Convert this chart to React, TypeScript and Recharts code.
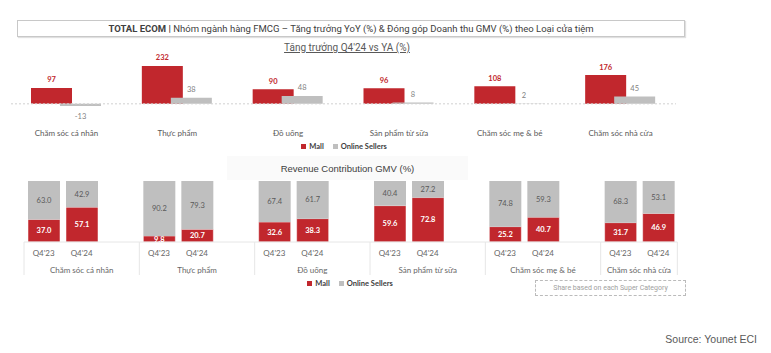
import { BarChart, Bar, XAxis, YAxis, LabelList, ReferenceLine } from "recharts";

const categories = [
  "Chăm sóc cá nhân",
  "Thực phẩm",
  "Đồ uống",
  "Sản phẩm từ sữa",
  "Chăm sóc mẹ & bé",
  "Chăm sóc nhà cửa",
];
const mallGrowth = [97, 232, 90, 96, 108, 176];
const onlineGrowth = [-13, 38, 48, 8, 2, 45];

const periods = ["Q4'23", "Q4'24"];
const mallShare23 = [37.0, 9.8, 32.6, 59.6, 25.2, 31.7];
const onlineShare23 = [63.0, 90.2, 67.4, 40.4, 74.8, 68.3];
const mallShare24 = [57.1, 20.7, 38.3, 72.8, 40.7, 46.9];
const onlineShare24 = [42.9, 79.3, 61.7, 27.2, 59.3, 53.1];

const RED = "#c1272d";
const GRAY = "#bfbfbf";
const TEXT = "#595959";
const FONT = "Lato, 'Noto Sans', sans-serif";

const growthData = categories.map((name, i) => ({
  name,
  mall: mallGrowth[i],
  online: onlineGrowth[i],
}));

const shareData = categories.map((name, i) => ({
  name,
  mall23: mallShare23[i],
  online23: onlineShare23[i],
  mall24: mallShare24[i],
  online24: onlineShare24[i],
}));

// bottom chart layout
const SHARE_W = 771;
const SHARE_ML = 24;
const SHARE_MR = 55;
const BAR_SIZE = 32;
const BAR_GAP = 6;
const BAND = (SHARE_W - SHARE_ML - SHARE_MR) / categories.length;

const growthLabel = (color: string, weight: number) => (props: any) => {
  const vb = props.viewBox || props;
  const x = vb.x ?? props.x;
  const y = vb.y ?? props.y;
  const w = vb.width ?? props.width;
  const h = vb.height ?? props.height;
  const value = Number(props.value);
  const top = Math.min(y, y + h);
  const bottom = Math.max(y, y + h);
  const ty = value < 0 ? bottom + 11 : top - 8;
  return (
    <text
      x={x + w / 2}
      y={ty}
      textAnchor="middle"
      dominantBaseline="central"
      fontSize={7.5}
      fontWeight={weight}
      fill={color}
      fontFamily={FONT}
    >
      {value}
    </text>
  );
};

const TopTick = (props: any) => {
  const { x, y, payload } = props;
  return (
    <text
      x={x}
      y={y + 21}
      textAnchor="middle"
      dominantBaseline="central"
      fontSize={8}
      fill={TEXT}
      fontFamily={FONT}
    >
      {payload.value}
    </text>
  );
};

const ShareTick = (props: any) => {
  const { x, y, payload, index } = props;
  const left = x - BAND / 2;
  const pad = (BAND - (3 * BAR_SIZE + 2 * BAR_GAP)) / 2;
  const c1 = left + pad + BAR_SIZE / 2;
  const c2 = c1 + BAR_SIZE + BAR_GAP;
  const last = index === categories.length - 1;
  const right = last ? c2 + BAR_SIZE / 2 + 3 : x + BAND / 2;
  return (
    <g>
      <line x1={left} y1={y} x2={right} y2={y} stroke="#e6e6e6" />
      <line x1={left} y1={y} x2={left} y2={y + 33} stroke="#e6e6e6" />
      {last && <line x1={right} y1={y} x2={right} y2={y + 33} stroke="#e6e6e6" />}
      {[c1, c2].map((cx, k) => (
        <text
          key={k}
          x={cx}
          y={y + 11}
          textAnchor="middle"
          dominantBaseline="central"
          fontSize={8}
          fill="#666"
          fontFamily={FONT}
        >
          {periods[k]}
        </text>
      ))}
      <text
        x={(left + right) / 2}
        y={y + 28}
        textAnchor="middle"
        dominantBaseline="central"
        fontSize={8}
        fill="#666"
        fontFamily={FONT}
      >
        {payload.value}
      </text>
    </g>
  );
};

const fmt = (v: any) => Number(v).toFixed(1);

function Legend({ top, width }: { top: number; width: number }) {
  const item = (color: string, label: string, ml: number) => (
    <span style={{ display: "flex", alignItems: "center", marginLeft: ml }}>
      <span style={{ width: 5, height: 5, background: color, marginRight: 3 }} />
      <span>{label}</span>
    </span>
  );
  return (
    <div
      style={{
        position: "absolute",
        left: 0,
        top,
        width,
        height: 10,
        display: "flex",
        justifyContent: "center",
        alignItems: "center",
        fontSize: 7.5,
        fontWeight: 700,
        color: "#404040",
        fontFamily: FONT,
      }}
    >
      {item(RED, "Mall", 0)}
      {item(GRAY, "Online Sellers", 9)}
    </div>
  );
}

export default function App() {
  return (
    <div
      style={{
        position: "absolute",
        left: 0,
        top: 0,
        width: 771,
        height: 353,
        background: "#fff",
        overflow: "hidden",
        fontFamily: FONT,
      }}
    >
      <div
        style={{
          position: "absolute",
          left: 17,
          top: 20,
          width: 668,
          height: 17,
          boxSizing: "border-box",
          border: "1px solid #c8c8c8",
          boxShadow: "1px 1px 1px rgba(0,0,0,0.12)",
          display: "flex",
          alignItems: "center",
          justifyContent: "center",
          fontSize: 9.5,
          color: "#404040",
          fontFamily: "Roboto, sans-serif",
          whiteSpace: "nowrap",
        }}
      >
        <span style={{ fontWeight: 700 }}>TOTAL ECOM |</span>
        &nbsp;Nhóm ngành hàng FMCG – Tăng trưởng YoY (%) &amp; Đóng góp Doanh thu GMV (%) theo Loại cửa tiệm
      </div>

      <div
        style={{
          position: "absolute",
          left: 247,
          top: 42,
          width: 200,
          textAlign: "center",
          fontSize: 10,
          lineHeight: "12px",
          color: TEXT,
          textDecoration: "underline",
          fontFamily: "Roboto, sans-serif",
        }}
      >
        Tăng trưởng Q4'24 vs YA (%)
      </div>

      <div style={{ position: "absolute", left: 0, top: 40 }}>
        <BarChart
          width={771}
          height={110}
          data={growthData}
          margin={{ top: 23, right: 95, bottom: 0, left: 11 }}
          barSize={41}
          barGap={-12}
        >
          <XAxis
            dataKey="name"
            axisLine={false}
            tickLine={false}
            tickSize={0}
            tickMargin={0}
            height={38}
            interval={0}
            tick={TopTick}
          />
          <YAxis hide domain={[-50, 250]} />
          <ReferenceLine y={0} stroke="#d0d0d0" strokeDasharray="2 2" />
          <Bar dataKey="mall" fill={RED} isAnimationActive={false}>
            <LabelList dataKey="mall" content={growthLabel(RED, 700)} />
          </Bar>
          <Bar dataKey="online" fill={GRAY} isAnimationActive={false}>
            <LabelList dataKey="online" content={growthLabel("#7f7f7f", 400)} />
          </Bar>
        </BarChart>
      </div>

      <Legend top={141} width={688} />

      <div
        style={{
          position: "absolute",
          left: 227,
          top: 156,
          width: 241,
          height: 24,
          background: "#fafafa",
          display: "flex",
          alignItems: "center",
          justifyContent: "center",
          fontSize: 9.5,
          color: "#404040",
          fontFamily: "'Liberation Sans', Arial, sans-serif",
        }}
      >
        Revenue Contribution GMV (%)
      </div>

      <div style={{ position: "absolute", left: 0, top: 170 }}>
        <BarChart
          width={SHARE_W}
          height={110}
          data={shareData}
          margin={{ top: 11, right: SHARE_MR, bottom: 0, left: SHARE_ML }}
          barSize={BAR_SIZE}
          barGap={BAR_GAP}
        >
          <XAxis
            dataKey="name"
            axisLine={false}
            tickLine={false}
            tickSize={0}
            tickMargin={0}
            height={38}
            interval={0}
            tick={ShareTick}
          />
          <YAxis hide domain={[0, 100]} />
          <Bar dataKey="mall23" stackId="q23" fill={RED} stroke="#fff" strokeWidth={0.5} isAnimationActive={false}>
            <LabelList dataKey="mall23" position="center" formatter={fmt} fill="#fff" fontSize={7.5} fontWeight={700} fontFamily={FONT} />
          </Bar>
          <Bar dataKey="online23" stackId="q23" fill={GRAY} isAnimationActive={false}>
            <LabelList dataKey="online23" position="center" formatter={fmt} fill={TEXT} fontSize={7.5} fontFamily={FONT} />
          </Bar>
          <Bar dataKey="mall24" stackId="q24" fill={RED} stroke="#fff" strokeWidth={0.5} isAnimationActive={false}>
            <LabelList dataKey="mall24" position="center" formatter={fmt} fill="#fff" fontSize={7.5} fontWeight={700} fontFamily={FONT} />
          </Bar>
          <Bar dataKey="online24" stackId="q24" fill={GRAY} isAnimationActive={false}>
            <LabelList dataKey="online24" position="center" formatter={fmt} fill={TEXT} fontSize={7.5} fontFamily={FONT} />
          </Bar>
          <Bar dataKey="pad" stackId="pad" fill="none" isAnimationActive={false} />
        </BarChart>
      </div>

      <Legend top={278} width={700} />

      <div
        style={{
          position: "absolute",
          left: 535,
          top: 280,
          width: 151,
          height: 16,
          boxSizing: "border-box",
          border: "1px dashed #bbbbbb",
          display: "flex",
          alignItems: "center",
          justifyContent: "center",
          fontSize: 7,
          color: "#a0a0a0",
          fontFamily: "Roboto, sans-serif",
        }}
      >
        Share based on each Super Category
      </div>

      <div
        style={{
          position: "absolute",
          right: 14,
          top: 333,
          fontSize: 10.5,
          lineHeight: "13px",
          color: TEXT,
          fontFamily: "'Liberation Sans', Arial, sans-serif",
        }}
      >
        Source: Younet ECI
      </div>
    </div>
  );
}
